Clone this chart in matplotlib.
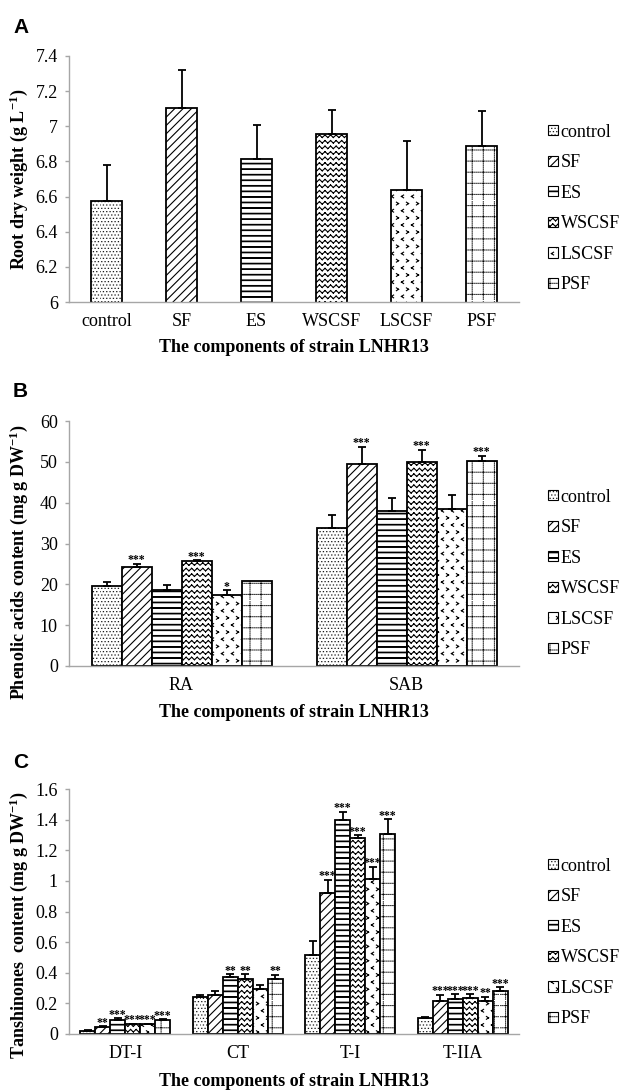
import warnings
warnings.filterwarnings('ignore')
import numpy as np
import matplotlib
matplotlib.use('Agg')
import matplotlib.pyplot as plt
import matplotlib.hatch as mhatch
from matplotlib.path import Path
from matplotlib.patches import Patch
from matplotlib.ticker import FuncFormatter

# ---------------- data ----------------
treatments = ['control', 'SF', 'ES', 'WSCSF', 'LSCSF', 'PSF']
hatch_codes = ['d', '////', 'e', 'z', 'v', 'g']

# Panel A: root dry weight
a_values = [6.573, 7.102, 6.814, 6.958, 6.636, 6.888]
a_errors = [0.205, 0.221, 0.194, 0.137, 0.282, 0.199]

# Panel B: phenolic acids
b_groups = ['RA', 'SAB']
b_ra_values = [19.7, 24.3, 18.6, 25.6, 17.4, 20.8]
b_ra_errors = [0.95, 0.8, 1.15, 0.3, 1.1, 0.0]
b_ra_stars = ['', '***', '', '***', '*', '']
b_sab_values = [33.7, 49.4, 38.0, 50.0, 38.4, 50.3]
b_sab_errors = [3.4, 4.2, 3.1, 2.9, 3.5, 1.2]
b_sab_stars = ['', '***', '', '***', '', '***']

# Panel C: tanshinones
c_groups = ['DT-I', 'CT', 'T-I', 'T-IIA']
c_dt1_values = [0.022, 0.046, 0.091, 0.065, 0.065, 0.091]
c_dt1_errors = [0.002, 0.004, 0.011, 0.003, 0.002, 0.005]
c_dt1_stars = ['', '**', '***', '***', '***', '***']
c_ct_values = [0.242, 0.257, 0.372, 0.359, 0.296, 0.359]
c_ct_errors = [0.013, 0.022, 0.018, 0.031, 0.026, 0.028]
c_ct_stars = ['', '', '**', '**', '', '**']
c_t1_values = [0.518, 0.918, 1.397, 1.278, 1.014, 1.308]
c_t1_errors = [0.091, 0.088, 0.053, 0.019, 0.076, 0.094]
c_t1_stars = ['', '***', '***', '***', '***', '***']
c_t2a_values = [0.107, 0.218, 0.231, 0.235, 0.218, 0.283]
c_t2a_errors = [0.004, 0.037, 0.028, 0.024, 0.026, 0.022]
c_t2a_stars = ['', '***', '***', '***', '**', '***']


# ---------------- custom hatch patterns ----------------
class _SegHatch(mhatch.HatchPatternBase):
    char = '?'

    def __init__(self, hatch, density):
        n = hatch.count(self.char) if hatch else 0
        self.segs = self.build() if n > 0 else []
        self.num_vertices = 2 * len(self.segs)

    def build(self):
        return []

    def set_vertices_and_codes(self, vertices, codes):
        for i, (p, q) in enumerate(self.segs):
            vertices[2 * i] = p
            vertices[2 * i + 1] = q
            codes[2 * i] = Path.MOVETO
            codes[2 * i + 1] = Path.LINETO


class DotHatch(_SegHatch):
    char = 'd'

    def build(self):
        segs = []
        n = 30
        for r in range(n):
            for c in range(n):
                x = (c + 0.5 * (r % 2)) / n
                y = (r + 0.5) / n
                segs.append(((x, y), (x + 0.002, y)))
        return segs


class HLineHatch(_SegHatch):
    char = 'e'

    def build(self):
        segs = []
        n = 18
        for r in range(n):
            y = (r + 0.5) / n
            segs.append(((0, y), (1, y)))
            segs.append(((0, y + 0.006), (1, y + 0.006)))
        return segs


class ZigZagHatch(_SegHatch):
    char = 'z'

    def build(self):
        segs = []
        rows, halfs = 18, 36
        amp = 0.45 / rows
        for r in range(rows):
            y0 = (r + 0.25) / rows
            for k in range(halfs):
                x1, x2 = k / halfs, (k + 1) / halfs
                y1 = y0 + (amp if k % 2 else 0)
                y2 = y0 + (0 if k % 2 else amp)
                segs.append(((x1, y1), (x2, y2)))
        return segs


class ChevronHatch(_SegHatch):
    char = 'v'

    def build(self):
        segs = []
        cols, rows = 10, 14
        sw, sh = 0.011, 0.014
        for r in range(rows):
            cy = (r + 0.5) / rows
            for c in range(cols):
                cx = (c + 0.25 + 0.5 * (r % 2)) / cols
                if r % 2 == 0:
                    tip = (cx - sw, cy)
                    segs.append(((cx + sw, cy + sh), tip))
                    segs.append((tip, (cx + sw, cy - sh)))
                else:
                    tip = (cx + sw, cy)
                    segs.append(((cx - sw, cy + sh), tip))
                    segs.append((tip, (cx - sw, cy - sh)))
        return segs


class DottedGridHatch(_SegHatch):
    char = 'g'

    def build(self):
        segs = []
        lines, dots = 9, 50
        for i in range(lines):
            p = (i + 0.5) / lines
            for k in range(dots):
                q = k / dots
                segs.append(((p, q), (p, q + 0.002)))
                segs.append(((q, p), (q + 0.002, p)))
        return segs


mhatch._hatch_types.extend([DotHatch, HLineHatch, ZigZagHatch,
                            ChevronHatch, DottedGridHatch])

# ---------------- style ----------------
plt.rcParams['font.family'] = ['Liberation Serif', 'DejaVu Serif']
plt.rcParams['mathtext.fontset'] = 'custom'
plt.rcParams['mathtext.rm'] = 'Liberation Serif:bold'
plt.rcParams['mathtext.it'] = 'Liberation Serif:italic:bold'
plt.rcParams['mathtext.bf'] = 'Liberation Serif:bold'
plt.rcParams['hatch.linewidth'] = 0.8
plt.rcParams['hatch.color'] = 'black'

AX_GRAY = '#a6a6a6'
TICK_FS = 13
LABEL_FS = 13

fig = plt.figure(figsize=(6.2, 10.9), dpi=100)
W, H = 620.0, 1090.0


def make_axes(top_px, bottom_px):
    left, right = 69, 519
    return fig.add_axes([left / W, 1 - bottom_px / H, (right - left) / W,
                         (bottom_px - top_px) / H])


def style_axes(ax, ymin, ymax, step, ncat):
    ax.set_xlim(-0.5, ncat - 0.5)
    ax.set_ylim(ymin, ymax)
    ax.set_yticks(np.round(np.arange(ymin, ymax + step / 2, step), 6))
    ax.yaxis.set_major_formatter(FuncFormatter(lambda v, p: f'{v:g}'))
    for s in ['top', 'right']:
        ax.spines[s].set_visible(False)
    for s in ['left', 'bottom']:
        ax.spines[s].set_color(AX_GRAY)
        ax.spines[s].set_linewidth(1.0)
    ax.tick_params(axis='y', length=3, width=1.0, color=AX_GRAY,
                   labelsize=TICK_FS, pad=5)
    ax.tick_params(axis='x', length=0, labelsize=TICK_FS, pad=8)


def draw_bar(ax, x, val, err, hatch, width):
    ax.bar(x, val, width=width, color='white', edgecolor='black',
           linewidth=1.3, hatch=hatch, zorder=2)
    if err > 0:
        ax.errorbar(x, val, yerr=[[0], [err]], fmt='none', ecolor='black',
                    elinewidth=1.3, capsize=3, capthick=1.3, zorder=3)


def add_stars(ax, x, top, s):
    if s:
        ax.annotate(s, (x, top), xytext=(0, 0.5), textcoords='offset points',
                    ha='center', va='baseline', fontsize=8.5,
                    fontweight='bold', zorder=4)


def add_legend(ax, center_y_px):
    handles = [Patch(facecolor='white', edgecolor='black', linewidth=0.8,
                     hatch=h, label=t) for t, h in zip(treatments, hatch_codes)]
    ax.legend(handles=handles, loc='center left',
              bbox_to_anchor=(548 / W, 1 - center_y_px / H),
              bbox_transform=fig.transFigure, frameon=False,
              fontsize=TICK_FS, handlelength=0.55, handleheight=0.5,
              handletextpad=0.15, labelspacing=0.75, borderpad=0,
              borderaxespad=0)


def set_labels(ax, ylabel, yfrac, xlabel_top_frac):
    ax.set_xlabel(xlabel, fontsize=LABEL_FS, fontweight='bold')
    ax.xaxis.set_label_coords(0.5, xlabel_top_frac)
    ax.set_ylabel(ylabel, fontsize=LABEL_FS, fontweight='bold')
    ax.yaxis.set_label_coords(-0.087, yfrac)


xlabel = 'The components of strain LNHR13'

# ---------------- Panel A ----------------
axA = make_axes(56, 302)
for i, t in enumerate(treatments):
    draw_bar(axA, i, a_values[i], a_errors[i], hatch_codes[i], 0.41)
axA.set_xticks(range(len(treatments)))
axA.set_xticklabels(treatments)
style_axes(axA, 6.0, 7.4, 0.2, len(treatments))
set_labels(axA, 'Root dry weight (g L$^{-1}$)', 0.5, -0.15)
add_legend(axA, 208.5)

# ---------------- grouped panels ----------------
GROUP_W = 0.8
BAR_W = GROUP_W / len(treatments)


def draw_groups(ax, groups, vals, errs, stars):
    for g in range(len(groups)):
        for i in range(len(treatments)):
            x = g + (i - (len(treatments) - 1) / 2) * BAR_W
            draw_bar(ax, x, vals[g][i], errs[g][i], hatch_codes[i], BAR_W)
            add_stars(ax, x, vals[g][i] + errs[g][i], stars[g][i])
    ax.set_xticks(range(len(groups)))
    ax.set_xticklabels(groups)


axB = make_axes(421, 666)
draw_groups(axB, b_groups, [b_ra_values, b_sab_values],
            [b_ra_errors, b_sab_errors], [b_ra_stars, b_sab_stars])
style_axes(axB, 0, 60, 10, len(b_groups))
set_labels(axB, 'Phenolic acids content (mg g DW$^{-1}$)', 0.424, -0.155)
add_legend(axB, 573.5)

axC = make_axes(789, 1034)
draw_groups(axC, c_groups,
            [c_dt1_values, c_ct_values, c_t1_values, c_t2a_values],
            [c_dt1_errors, c_ct_errors, c_t1_errors, c_t2a_errors],
            [c_dt1_stars, c_ct_stars, c_t1_stars, c_t2a_stars])
style_axes(axC, 0, 1.6, 0.2, len(c_groups))
set_labels(axC, 'Tanshinones  content (mg g DW$^{-1}$)', 0.445, -0.159)
add_legend(axC, 942.5)

# panel letters
for letter, base in [('A', 33), ('B', 397), ('C', 768)]:
    fig.text(13 / W, 1 - base / H, letter, fontsize=15, fontweight='bold',
             family=['Liberation Sans', 'DejaVu Sans'], va='baseline',
             ha='left')

fig.savefig('out.png', dpi=100, facecolor='white')
